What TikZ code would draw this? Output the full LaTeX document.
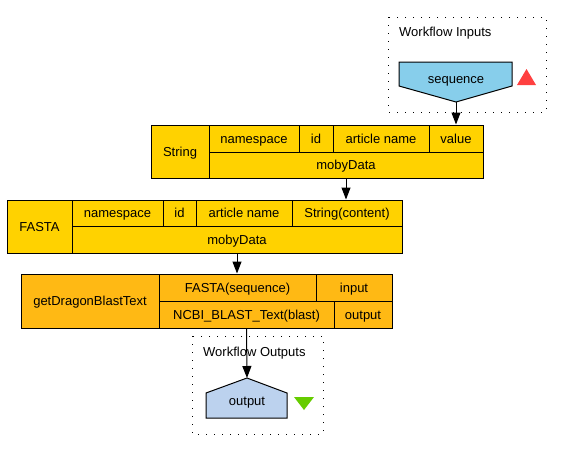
\documentclass[tikz,border=0pt]{standalone}
\usepackage{fontspec}
\setmainfont{Liberation Sans}
\usetikzlibrary{arrows.meta}

\definecolor{mobygold}{RGB}{255,210,0}
\definecolor{svcorange}{RGB}{255,185,20}
\definecolor{inblue}{RGB}{135,206,235}
\definecolor{outblue}{RGB}{188,210,238}
\definecolor{trired}{RGB}{255,64,64}
\definecolor{trigreen}{RGB}{102,204,0}

\tikzset{
  txt/.style={inner sep=0pt, text height=9.3pt, text depth=0pt, font=\fontsize{13}{15}\selectfont},
  cell/.style={txt, draw, line width=1pt},
  moby/.style={cell, fill=mobygold},
  svc/.style={cell, fill=svcorange},
  port/.style={draw, line width=1pt},
  wire/.style={line width=1pt, -{Stealth[inset=0pt, length=12pt, width=9pt]}},
  wfbox/.style={line width=1pt, dash pattern=on 1pt off 7pt},
  wflabel/.style={txt, anchor=west}
}

\begin{document}
\begin{tikzpicture}[x=1pt, y=-1pt]
        \useasboundingbox (0,0) rectangle (564,463);

        % Workflow inputs
        \draw[wfbox] (388,17) rectangle (546,112);
        \node[wflabel] (inLbl) at (399,32) {Workflow Inputs};
        \filldraw[port, fill=inblue] (399,62) -- (512,62) -- (512,86) -- (456,102) -- (399,86) -- cycle;
        \coordinate (seqTip) at (456,102);
        \node[txt] (seq) at (456,79) {sequence};
        \fill[trired] (517,85) -- (536,85) -- (526.5,69) -- cycle;

        % String
        \node[moby, minimum width=58pt, minimum height=53pt] (strName) at (180,151.5) {String};
        \node[moby, minimum width=90pt, minimum height=27pt] (strNs) at (254,138.5) {namespace};
        \node[moby, minimum width=34pt, minimum height=27pt] (strId) at (316,138.5) {id};
        \node[moby, minimum width=96pt, minimum height=27pt] (strArt) at (381,138.5) {article name};
        \node[moby, minimum width=54pt, minimum height=27pt] (strVal) at (456,138.5) {value};
        \node[moby, minimum width=274pt, minimum height=26pt] (strData) at (346,165) {mobyData};

        % FASTA
        \node[moby, minimum width=65pt, minimum height=53pt] (fasName) at (39.5,226.5) {FASTA};
        \node[moby, minimum width=91pt, minimum height=26pt] (fasNs) at (117.5,213) {namespace};
        \node[moby, minimum width=33pt, minimum height=26pt] (fasId) at (179.5,213) {id};
        \node[moby, minimum width=96pt, minimum height=26pt] (fasArt) at (244,213) {article name};
        \node[moby, minimum width=110pt, minimum height=26pt] (fasStr) at (347,213) {String(content)};
        \node[moby, minimum width=330pt, minimum height=27pt] (fasData) at (237,239.5) {mobyData};

        % getDragonBlastText
        \node[svc, minimum width=138pt, minimum height=54pt] (svcName) at (90,301) {getDragonBlastText};
        \node[svc, minimum width=157pt, minimum height=27pt] (svcIn) at (237.5,287.5) {FASTA(sequence)};
        \node[svc, minimum width=76pt, minimum height=27pt] (svcInLbl) at (354,287.5) {input};
        \node[svc, minimum width=175pt, minimum height=27pt] (svcOut) at (246.5,314.5) {NCBI\_BLAST\_Text(blast)};
        \node[svc, minimum width=58pt, minimum height=27pt] (svcOutLbl) at (363,314.5) {output};

        % Workflow outputs
        \draw[wfbox] (192,336) rectangle (323,434);
        \node[wflabel] (outLbl) at (203,352) {Workflow Outputs};
        \filldraw[port, fill=outblue] (206,393) -- (247,378) -- (287,393) -- (287,418) -- (206,418) -- cycle;
        \coordinate (outTip) at (247,378);
        \node[txt] (out) at (247,401) {output};
        \fill[trigreen] (294,397) -- (314,397) -- (304,410) -- cycle;

        % links
        \draw[wire] (seqTip) -- (strVal.north);
        \draw[wire] (strData.south) -- (strData.south |- fasStr.north);
        \draw[wire] (fasData.south) -- (fasData.south |- svcIn.north);
        \draw[wire] (svcOut.south) -- (outTip);
\end{tikzpicture}
\end{document}
